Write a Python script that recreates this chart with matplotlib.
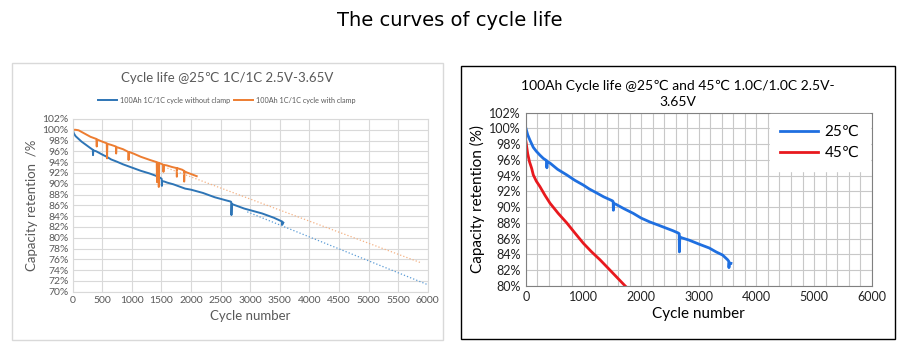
import matplotlib
matplotlib.use("Agg")
from matplotlib import pyplot as plt
from matplotlib.patches import Rectangle
from matplotlib.ticker import MultipleLocator, FuncFormatter

plt.rcParams['font.family'] = ['Lato', 'DejaVu Sans']

# left chart: 25C, with / without clamp
noclamp_x = [0, 20, 50, 100, 150, 200, 250, 300, 340, 343, 348, 400, 500, 575, 650, 744, 850,
             1025, 1150, 1300, 1400, 1480, 1504, 1507, 1512, 1550, 1600, 1700, 1800, 1900,
             2000, 2100, 2200, 2300, 2400, 2500, 2600, 2670, 2680, 2683, 2690, 2700, 2800,
             2900, 3000, 3100, 3200, 3300, 3400, 3500, 3540, 3543, 3548, 3560]
noclamp_y = [100.0, 99.3, 98.8, 98.3, 97.8, 97.4, 97.0, 96.6, 96.3, 95.3, 96.2, 96.0, 95.4, 95.0,
             94.5, 94.1, 93.6, 92.9, 92.4, 91.9, 91.5, 91.1, 90.9, 89.6, 90.5, 90.4, 90.2,
             89.9, 89.5, 89.1, 88.9, 88.6, 88.3, 87.9, 87.5, 87.2, 86.9, 86.7, 86.6, 84.2,
             86.3, 86.2, 85.8, 85.4, 85.1, 84.8, 84.5, 84.1, 83.7, 83.2, 83.0, 82.4, 82.9, 82.8]
clamp_x = [0, 50, 100, 150, 200, 300, 400, 406, 412, 500, 575, 580, 586, 650, 730, 734, 740,
           850, 940, 944, 950, 1025, 1150, 1307, 1420, 1425, 1430, 1450, 1455, 1462, 1500,
           1530, 1534, 1540, 1589, 1680, 1757, 1760, 1765, 1850, 1880, 1884, 1890, 1927,
           2000, 2096]
clamp_y = [100.0, 100.0, 99.9, 99.6, 99.3, 98.7, 98.3, 96.9, 98.2, 97.8, 97.5, 94.7, 97.4,
           97.2, 96.9, 95.6, 96.8, 96.4, 95.9, 94.4, 95.9, 95.6, 95.0, 94.4, 94.0, 90.3, 93.9,
           93.9, 89.4, 93.8, 93.7, 93.5, 92.2, 93.5, 93.4, 93.1, 92.9, 91.3, 92.9, 92.6, 92.4,
           90.4, 92.3, 92.1, 91.8, 91.4]
noclamp_trend_x = [2950, 6000]
noclamp_trend_y = [84.8, 71.3]
clamp_trend_x = [1600, 5900]
clamp_trend_y = [92.9, 75.3]

# right chart: 25C and 45C
t25_x = [0, 30, 70, 127, 180, 243, 300, 360, 363, 368, 417, 550, 707, 850, 996, 1100, 1227,
         1350, 1500, 1514, 1517, 1522, 1550, 1700, 1863, 2000, 2153, 2300, 2442, 2550, 2644,
         2660, 2663, 2670, 2700, 2831, 3000, 3180, 3300, 3413, 3500, 3520, 3523, 3530, 3558]
t25_y = [100.0, 99.2, 98.5, 97.6, 97.1, 96.6, 96.2, 95.9, 95.0, 95.8, 95.6, 94.8, 94.1, 93.4,
         92.8, 92.3, 91.8, 91.3, 90.8, 90.7, 89.6, 90.4, 90.4, 89.8, 89.2, 88.6, 88.1, 87.7,
         87.3, 87.0, 86.7, 86.6, 84.3, 86.2, 86.1, 85.8, 85.3, 84.8, 84.3, 83.9, 83.3, 83.1,
         82.3, 82.9, 82.85]
t45_x = [0, 30, 60, 100, 127, 180, 243, 330, 417, 560, 707, 850, 996, 1140, 1285, 1430, 1574,
         1718, 1760]
t45_y = [98.3, 96.8, 95.8, 94.9, 94.1, 93.3, 92.6, 91.5, 90.5, 89.2, 88.0, 86.7, 85.4, 84.3,
         83.3, 82.2, 81.1, 80.0, 79.7]

fig = plt.figure(figsize=(9, 3.48), dpi=100)
fig.text(0.5, 0.9425, "The curves of cycle life", ha="center", va="center",
         fontsize=14, family="DejaVu Sans")

# panel frames
fig.patches.append(Rectangle((12 / 900, 1 - 340 / 348), 431 / 900, 277 / 348,
                             transform=fig.transFigure, fill=False, ec="#d9d9d9", lw=1))
fig.patches.append(Rectangle((461 / 900, 1 - 339 / 348), 434 / 900, 273 / 348,
                             transform=fig.transFigure, fill=False, ec="black", lw=1))

pct = FuncFormatter(lambda v, p: f"{v:.0f}%")

# ---- left
ax = fig.add_axes([0.0808, 0.1618, 0.3944, 0.4963])
ax.plot(noclamp_x, noclamp_y, color="#2e75b6", lw=1.4, label="100Ah 1C/1C cycle without clamp")
ax.plot(clamp_x, clamp_y, color="#ed7d31", lw=1.4, label="100Ah 1C/1C cycle with clamp")
ax.plot(noclamp_trend_x, noclamp_trend_y, color="#5b9bd5", lw=0.9, ls=":")
ax.plot(clamp_trend_x, clamp_trend_y, color="#f4b183", lw=0.9, ls=":")
ax.set_xlim(0, 6000)
ax.set_ylim(70, 102)
ax.xaxis.set_major_locator(MultipleLocator(500))
ax.yaxis.set_major_locator(MultipleLocator(2))
ax.yaxis.set_major_formatter(pct)
ax.grid(True, color="#d9d9d9", lw=0.8)
ax.set_axisbelow(True)
for s in ax.spines.values():
    s.set_color("#d9d9d9")
ax.tick_params(length=0, labelsize=7.5, colors="#595959", pad=3)
ax.set_xlabel("Cycle number", fontsize=9.5, color="#595959", labelpad=4)
ax.set_ylabel("Capacity retention  /%", fontsize=9.5, color="#595959", labelpad=3)
fig.text(0.252, 0.776, "Cycle life @25\u2103 1C/1C 2.5V-3.65V", ha="center", va="center",
         fontsize=9.5, color="#595959")
fig.legend(*ax.get_legend_handles_labels(), loc="center", bbox_to_anchor=(0.252, 0.7126),
           ncol=2, frameon=False, fontsize=5.2, handlelength=2.6, columnspacing=0.6,
           handletextpad=0.4, labelcolor="#595959")

# ---- right
bx = fig.add_axes([0.5844, 0.179, 0.3841, 0.497])
bx.plot(t25_x, t25_y, color="#1f6fe0", lw=2, label="25\u2103")
bx.plot(t45_x, t45_y, color="#e8191e", lw=2, label="45\u2103")
bx.set_xlim(0, 6000)
bx.set_ylim(80, 102)
bx.xaxis.set_major_locator(MultipleLocator(1000))
bx.xaxis.set_minor_locator(MultipleLocator(200))
bx.yaxis.set_major_locator(MultipleLocator(2))
bx.yaxis.set_major_formatter(pct)
bx.grid(True, which="both", color="#c8c8c8", lw=0.8)
bx.set_axisbelow(True)
for s in bx.spines.values():
    s.set_color("#808080")
bx.tick_params(which="both", length=0, labelsize=9, colors="#222222", pad=4)
bx.set_xlabel("Cycle number", fontsize=11, labelpad=3)
bx.set_ylabel("Capacity retention (%)", fontsize=11, labelpad=3)
fig.text(0.7535, 0.7313, "100Ah Cycle life @25\u2103 and 45\u2103 1.0C/1.0C 2.5V-\n3.65V",
         ha="center", va="center", fontsize=10, linespacing=1.4)
leg = bx.legend(loc="upper right", bbox_to_anchor=(1.0, 1.0), fontsize=11, frameon=True,
                fancybox=False, framealpha=1, edgecolor="white", handlelength=2.5,
                handletextpad=0.4, borderaxespad=0.1, borderpad=0.7, labelspacing=0.45)

fig.savefig("out.png", dpi=100)
